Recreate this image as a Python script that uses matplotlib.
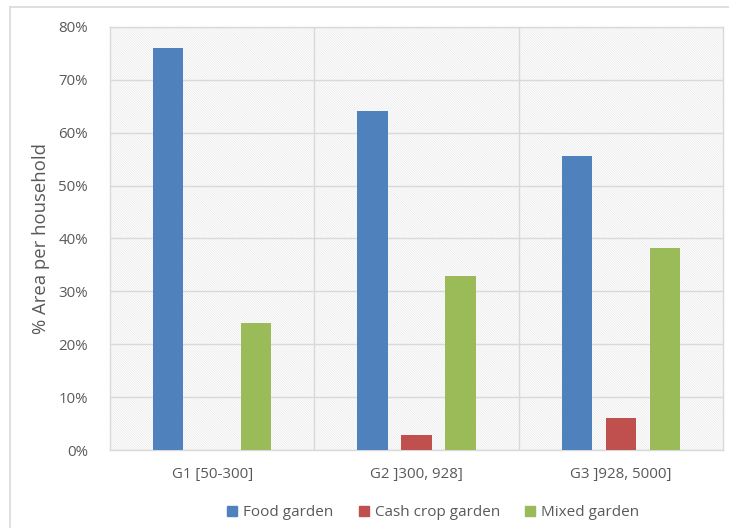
import matplotlib.pyplot as plt
import matplotlib as mpl
from matplotlib.lines import Line2D
import numpy as np

plt.rcParams['font.family'] = ['Open Sans', 'DejaVu Sans']
mpl.rcParams['hatch.color'] = '#e9e9e9'
mpl.rcParams['hatch.linewidth'] = 0.5

categories = ['G1 [50-300]', 'G2 ]300, 928]', 'G3 ]928, 5000]']
series_names = ['Food garden', 'Cash crop garden', 'Mixed garden']
food = [76.0, 64.1, 55.6]
cash = [0.0, 2.8, 6.1]
mixed = [24.0, 32.9, 38.2]
colors = ['#4f81bd', '#c0504d', '#9bbb59']
y_ticks = [0, 10, 20, 30, 40, 50, 60, 70, 80]

W, H = 729, 531
fig = plt.figure(figsize=(W / 100, H / 100), dpi=100)
ax = fig.add_axes([110 / W, 1 - 450 / H, (723 - 110) / W, (450 - 27) / H])

# finely hatched plot-area background
ax.set_facecolor('white')
bg = mpl.patches.Rectangle((0, 0), 1, 1, transform=ax.transAxes, facecolor='white',
                           edgecolor='#e9e9e9', hatch='\\' * 14, linewidth=0, zorder=0)
ax.add_patch(bg)

x = np.arange(len(categories))
offset = 0.215
width = 0.148
for i, (vals, c) in enumerate(zip([food, cash, mixed], colors)):
    ax.bar(x + (i - 1) * offset, vals, width=width, color=c, zorder=3)

ax.set_xlim(-0.5, 2.5)
ax.set_ylim(0, 80)
ax.set_yticks(y_ticks)
ax.set_yticklabels([f'{t}%' for t in y_ticks])
ax.set_xticks(x)
ax.set_xticklabels(categories)

# gridlines
for t in y_ticks:
    ax.axhline(t, color='#d9d9d9', lw=1.0, zorder=1)
for b in [0.5, 1.5]:
    ax.axvline(b, color='#d9d9d9', lw=1.0, zorder=1)

for s in ax.spines.values():
    s.set_color('#d9d9d9')
    s.set_linewidth(1.0)

ax.tick_params(axis='both', length=0, colors='#595959', labelsize=10.8)
ax.tick_params(axis='y', pad=16)
ax.tick_params(axis='x', pad=12)

ax.set_ylabel('% Area per household', fontsize=13.3, color='#595959', labelpad=6)

handles = [Line2D([], [], marker='s', linestyle='none', markersize=7.5,
                  markerfacecolor=c, markeredgecolor=c) for c in colors]
fig.legend(handles, series_names, loc='center', bbox_to_anchor=(432 / W, 1 - 513 / H),
           ncol=3, frameon=False, fontsize=11, labelcolor='#595959',
           handlelength=1.0, handletextpad=0.2, columnspacing=1.5)

# outer chart frame (top and left edges)
fig.add_artist(Line2D([10 / W, 1], [1 - 7 / H, 1 - 7 / H], transform=fig.transFigure,
                      color='#d9d9d9', lw=1.2))
fig.add_artist(Line2D([10 / W, 10 / W], [1 - 7 / H, 1 - 527 / H], transform=fig.transFigure,
                      color='#d9d9d9', lw=1.2))

fig.savefig('out.png', dpi=100)
